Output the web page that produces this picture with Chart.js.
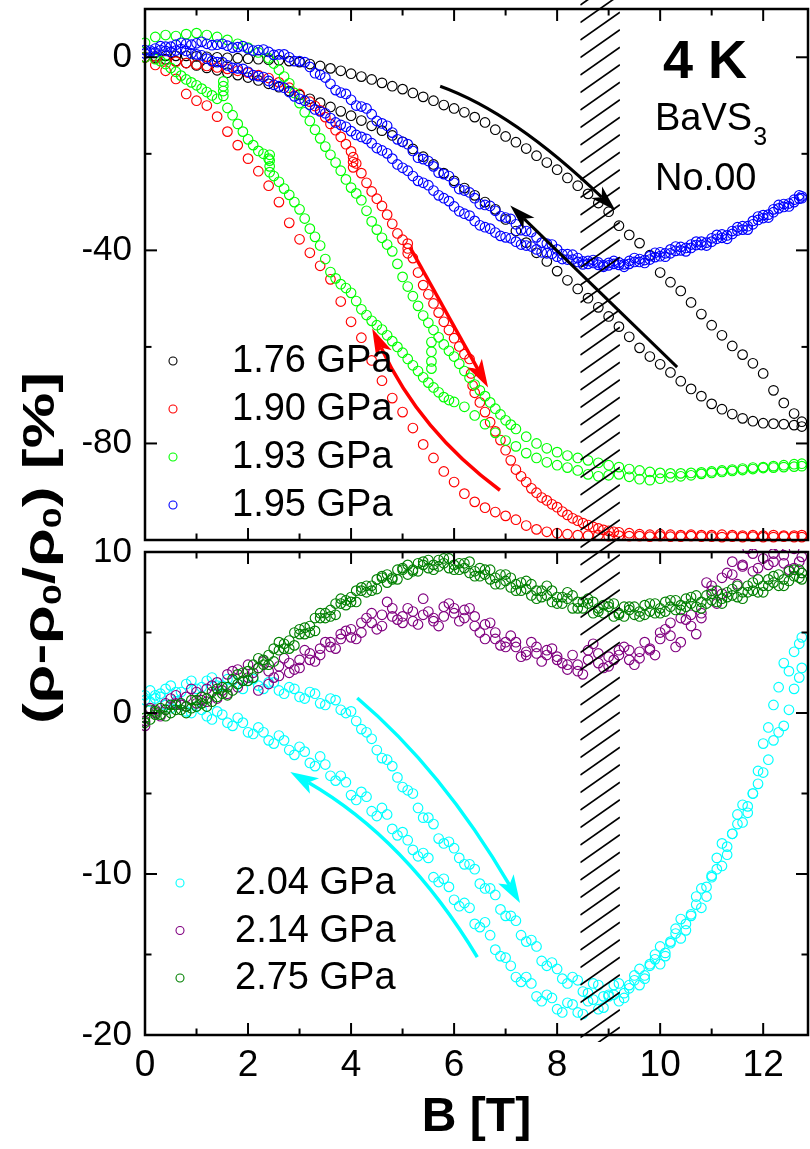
<!DOCTYPE html>
<html><head><meta charset="utf-8">
<script src="https://cdn.jsdelivr.net/npm/chart.js@4"></script>
<style>
html,body{margin:0;padding:0;background:#fff;}
#wrap{position:relative;width:810px;height:1149px;overflow:hidden;background:#fff;}
#cTop{position:absolute;left:0;top:0;}
#cBot{position:absolute;left:0;top:520px;}
#ytitle{position:absolute;left:39px;top:548px;transform:translate(-50%,-50%) rotate(-90deg) scale(1.42,1);font:bold 44px "Liberation Sans",Arial,sans-serif;white-space:nowrap;color:#000;line-height:1;}
#ytitle sub{font-size:0.6em;vertical-align:-0.25em;line-height:0;}
</style></head><body>
<div id="wrap">
<canvas id="cTop" width="810" height="546"></canvas>
<canvas id="cBot" width="810" height="629"></canvas>
<div id="ytitle">(ρ-ρ<sub>0</sub>/ρ<sub>0</sub>) [%]</div>
</div>
<script>
// ---------- axis / tick values ----------
const xTickLabels = [0, 2, 4, 6, 8, 10, 12];
const xMinorTicks = [1, 3, 5, 7, 9, 11];
const topYTickLabels = [-80, -40, 0];
const topYMajorTicks = [-80, -40, 0];
const topYMinorTicks = [-60, -20];
const botYTickLabels = [-20, -10, 0, 10];
const botYMajorTicks = [-10, 0];
const botYMinorTicks = [-15, -5, 5];
const topLabels = ['1.76 GPa', '1.90 GPa', '1.93 GPa', '1.95 GPa'];
const botLabels = ['2.04 GPa', '2.14 GPa', '2.75 GPa'];
const hatchBand = [8.45, 9.22];

// ---------- magnetic field grids (T) ----------
const fieldB = [0,0.2,0.4,0.6,0.8,1,1.2,1.4,1.6,1.8,
 2,2.2,2.4,2.6,2.8,3,3.2,3.4,3.6,3.8,
 4,4.2,4.4,4.6,4.8,5,5.2,5.4,5.6,5.8,
 6,6.2,6.4,6.6,6.8,7,7.2,7.4,7.6,7.8,
 8,8.2,8.4,8.6,8.8,9,9.2,9.4,9.6,9.8,
 10,10.2,10.4,10.6,10.8,11,11.2,11.4,11.6,11.8,
 12,12.2,12.4,12.6,12.75];
const fieldBHalf = [0.1,0.3,0.5,0.7,0.9,1.1,1.3,1.5,1.7,1.9,
 2.1,2.3,2.5,2.7,2.9,3.1,3.3,3.5,3.7,3.9,
 4.1,4.3,4.5,4.7,4.9,5.1,5.3,5.5,5.7,5.9,
 6.1,6.3,6.5,6.7,6.9,7.1,7.3,7.5,7.7,7.9,
 8.1,8.3,8.5,8.7,8.9,9.1,9.3,9.5,9.7,9.9,
 10.1,10.3,10.5,10.7,10.9,11.1,11.3,11.5,11.7,11.9,
 12.1,12.3,12.5,12.7];

// ---------- 1.76 GPa ----------
const p176Up = [0,0.2,0.3,0.3,0.3,0.2,0.1,0,-0.1,-0.2,
 -0.3,-0.4,-0.5,-0.6,-0.8,-1.0,-1.4,-1.8,-2.3,-2.8,
 -3.4,-4.0,-4.6,-5.3,-6.0,-6.6,-7.4,-8.2,-9.0,-9.9,
 -10.6,-11.4,-12.4,-13.5,-15.0,-16.4,-17.6,-18.9,-20.4,-21.8,
 -23.3,-25.0,-26.6,-28.3,-30.2,-32.0,-34.9,-36.8,-38.5,-41.0,
 -44.6,-46.6,-48.4,-50.8,-53.2,-55.5,-57.6,-59.8,-61.6,-63.4,
 -65.5,-69.0,-71.6,-73.8,-75.5];
const p176Down = [0,-0.1,-0.4,-0.8,-1.2,-1.7,-2.2,-2.7,-3.2,-3.7,
 -4.2,-4.8,-5.5,-6.2,-7.0,-7.8,-8.6,-9.4,-10.3,-11.2,
 -12.1,-13.1,-14.2,-15.2,-16.2,-17.5,-19.0,-20.6,-22.2,-24.0,
 -25.6,-27.1,-28.6,-30.0,-31.5,-33.6,-36.0,-38.4,-40.5,-42.3,
 -44.3,-46.2,-48.0,-49.9,-51.8,-53.7,-55.8,-57.9,-60.2,-62.0,
 -63.6,-65.3,-67.1,-68.7,-70.2,-71.8,-72.9,-73.9,-74.8,-75.4,
 -75.8,-75.9,-76.0,-76.2,-76.5];

// ---------- 1.90 GPa ----------
const p190Up = [0,-0.3,-0.6,-0.9,-1.2,-1.5,-1.8,-2.1,-2.4,-2.8,
 -3.2,-3.7,-4.3,-5.2,-6.3,-7.6,-9.2,-11.0,-13.8,-16.5,
 -19.5,-24.0,-27.8,-30.8,-34.5,-37.8,-41.6,-47.2,-51.0,-54.8,
 -58.2,-61.5,-69.5,-73.5,-77.5,-81.4,-85.4,-88.0,-90.2,-91.8,
 -93.2,-94.8,-96.0,-96.9,-97.6,-98.1,-98.4,-98.6,-98.8,-98.9,
 -98.8,-98.9,-99.0,-98.9,-99.0,-99.0,-98.9,-99.0,-99.1,-99.0,
 -99.1,-99.0,-99.1,-99.1,-99.0];
const p190UpExtraB = [3.3,3.5,3.7,3.9,4.04,4.04,4.04,4.1,4.3,4.5,4.7,4.9,5.1,5.1,5.1,5.3,5.5,5.7,5.9,6.1,6.3,6.33,6.36,6.5,6.7,6.9,7.1,7.3,7.5,7.7,7.9,8.1,8.3,8.5,8.7,8.9,9.1];
const p190UpExtraR = [-10.1,-12.4,-15.1,-18.0,-20.7,-21.7,-22.8,-22.0,-26.0,-29.3,-32.6,-36.5,-38.6,-39.6,-40.6,-44.6,-49.1,-52.9,-56.5,-59.9,-62.5,-65.5,-68.0,-71.5,-75.6,-79.3,-83.5,-86.8,-89.3,-91.2,-92.6,-94.1,-95.5,-96.5,-97.3,-97.9,-98.3];
const p190Down = [0,-1.6,-2.8,-4.5,-7.6,-9.0,-10.0,-12.3,-15.4,-18.2,
 -21.0,-23.6,-26.6,-30.0,-34.3,-37.7,-40.5,-43.2,-46.0,-50.6,
 -54.8,-58.1,-62.8,-67.0,-70.6,-73.5,-76.8,-80.2,-83.0,-85.8,
 -88.0,-90.4,-92.1,-93.3,-94.2,-95.0,-95.8,-97.0,-97.8,-98.3,
 -98.6,-98.8,-99.0,-99.1,-99.0,-99.2,-99.1,-99.2,-99.2,-99.3,
 -99.2,-99.3,-99.3,-99.2,-99.3,-99.3,-99.4,-99.3,-99.4,-99.3,
 -99.4,-99.4,-99.3,-99.4,-99.4];

// ---------- 1.93 GPa ----------
const p193Up = [3.0,4.2,4.6,4.4,4.8,5.0,4.6,4.2,3.6,2.8,
 2.0,1.0,-0.2,-2.6,-5.4,-9.5,-13.2,-16.8,-20.2,-23.5,
 -27.0,-29.6,-34.0,-37.4,-40.2,-45.5,-49.5,-53.5,-56.5,-59.5,
 -62.0,-65.0,-67.8,-70.2,-72.8,-75.2,-77.0,-78.6,-80.0,-81.0,
 -81.8,-82.5,-83.0,-83.5,-84.0,-84.5,-84.9,-85.3,-85.6,-85.9,
 -86.1,-86.2,-86.2,-86.1,-86.0,-85.8,-85.6,-85.4,-85.2,-85.0,
 -84.9,-84.7,-84.5,-84.3,-84.2];
const p193Down = [0,-0.4,-1.4,-3.0,-4.6,-5.8,-7.2,-8.6,-10.5,-13.8,
 -17.0,-19.4,-21.0,-25.8,-28.5,-31.5,-35.5,-39.0,-44.5,-47.0,
 -48.8,-52.2,-54.6,-56.4,-58.8,-61.2,-63.8,-66.3,-68.4,-70.4,
 -71.4,-72.4,-74.2,-76.0,-77.8,-79.4,-80.6,-82.0,-83.0,-83.9,
 -84.5,-85.0,-85.6,-86.4,-86.8,-86.6,-86.4,-86.9,-87.4,-87.6,
 -87.3,-87.0,-86.8,-86.6,-86.3,-86.1,-85.9,-85.7,-85.5,-85.3,
 -85.1,-85.0,-84.9,-84.8,-84.7];
const p193ExtraB = [0.3,0.5,0.7,0.9,1.1,1.3,1.7,1.9,2.1,2.3,2.5,2.7,2.9,3.1,3.3,3.5,3.7,3.9,4.1,4.3,4.5,4.7,4.9,5.1,5.3,5.5,5.7,5.9,
 2.5,2.7,2.9,3.1,3.3,3.5,3.7,3.9,4.1,4.3,4.5,4.7,4.9,5.1,5.3,5.5,5.7,5.9,6.1,6.3,6.5,6.7,6.9,7.1,
 1.52,1.52,1.52,1.52,2.42,2.42,2.42,2.42,5.56,5.56,5.56,5.56];
const p193ExtraR = [-0.8,-2.2,-3.8,-5.2,-6.5,-7.9,-12.0,-15.4,-18.2,-20.0,-24.6,-27.2,-30.0,-33.4,-37.2,-41.8,-45.8,-47.8,-50.5,-53.4,-55.5,-57.6,-60.0,-62.5,-65.0,-67.4,-69.4,-71.0,
 -1.3,-4.0,-7.4,-11.4,-15.0,-18.5,-21.8,-25.3,-28.2,-31.8,-35.7,-38.8,-42.8,-47.5,-51.5,-55.0,-58.0,-60.8,-63.5,-66.4,-69.0,-71.5,-74.0,-76.1,
 -5.0,-6.0,-7.0,-8.0,-20.2,-21.4,-22.6,-23.8,-59.0,-61.0,-63.0,-64.5];

// ---------- 1.95 GPa ----------
const p195Up = [1.5,1.8,2.2,2.6,2.8,2.9,2.8,2.6,2.4,2.1,
 1.8,1.5,1.1,0.6,0,-0.8,-2.0,-3.6,-5.5,-7.3,
 -8.8,-10.2,-11.8,-13.7,-15.6,-17.5,-19.4,-21.1,-22.6,-24.2,
 -26.0,-27.6,-29.2,-30.6,-31.8,-33.2,-34.6,-36.0,-37.3,-38.6,
 -39.8,-40.8,-41.6,-42.2,-42.5,-42.6,-42.5,-42.2,-41.8,-41.2,
 -40.4,-39.8,-39.3,-38.8,-38.2,-37.5,-36.7,-36.0,-35.0,-33.9,
 -32.7,-31.5,-30.4,-29.5,-28.8];
const p195UpHalf = [1.4,2.3,2.2,3.0,2.6,3.2,2.5,2.8,2.0,2.3,
 1.4,1.6,0.5,0.6,-0.8,-1.0,-3.3,-4.2,-6.8,-7.6,
 -10.0,-10.6,-13.2,-14.2,-17.0,-18.0,-20.8,-21.5,-23.9,-24.6,
 -27.3,-28.0,-30.4,-30.8,-32.9,-33.5,-35.8,-36.2,-38.4,-38.8,
 -40.8,-40.9,-42.3,-42.0,-43.1,-42.2,-42.9,-41.6,-42.0,-40.5,
 -40.6,-39.2,-39.5,-38.2,-38.4,-36.8,-36.9,-35.2,-35.0,-33.0,
 -32.6,-30.6,-30.3,-28.6];
const p195Down = [0.8,1.0,1.3,1.4,1.3,0.6,-0.3,-1.0,-1.7,-2.3,
 -3.0,-3.9,-4.9,-6.0,-7.2,-8.6,-9.9,-11.2,-12.6,-14.0,
 -15.3,-16.5,-17.8,-19.3,-21.0,-22.9,-24.6,-26.0,-27.6,-29.2,
 -30.9,-32.4,-33.9,-35.2,-36.3,-37.3,-38.2,-39.0,-39.8,-40.6,
 -41.3,-41.9,-42.4,-42.8,-43.0,-43.1,-43.0,-42.8,-42.4,-41.9,
 -41.2,-40.6,-40.0,-39.5,-38.9,-38.2,-37.4,-36.6,-35.7,-34.6,
 -33.3,-32.1,-31.0,-30.0,-29.2];
const p195DownHalf = [1.0,1.5,1.1,1.7,0.8,0.4,-0.8,-1.0,-2.2,-2.4,
 -3.7,-4.1,-5.7,-6.3,-8.1,-9.0,-10.8,-11.6,-13.5,-14.4,
 -16.1,-16.9,-18.8,-19.9,-22.2,-23.5,-25.6,-26.5,-28.6,-29.8,
 -31.9,-32.8,-34.8,-35.5,-37.0,-37.5,-38.8,-39.2,-40.4,-40.7,
 -41.8,-41.9,-42.9,-42.6,-43.4,-42.8,-43.4,-42.4,-42.6,-41.4,
 -41.3,-40.1,-40.2,-38.9,-39.0,-37.6,-37.6,-35.9,-35.7,-33.7,
 -33.2,-31.3,-30.9,-29.3];

// ---------- 2.04 GPa ----------
const p204Up = [1.1,0.9,1.5,1.3,1.8,1.5,2.0,1.7,2.1,1.8,
 2.0,1.7,1.9,1.4,1.6,1.0,1.3,0.6,0.9,0.2,
 0.1,-1.0,-1.6,-2.8,-3.3,-4.6,-5.0,-6.5,-6.9,-8.1,
 -8.4,-9.4,-9.7,-10.9,-11.3,-12.6,-12.9,-14.2,-14.5,-15.7,
 -15.9,-16.8,-16.6,-17.4,-16.9,-17.5,-16.8,-17.1,-15.9,-15.6,
 -14.5,-14.3,-12.8,-12.6,-10.9,-10.1,-8.1,-7.5,-5.7,-5.0,
 -1.9,0.5,3.1,3.8,4.7];
const p204UpHalf = [1.4,1.2,1.7,1.3,2.0,1.6,2.2,1.7,2.0,1.5,
 2.1,1.5,1.9,1.2,1.5,0.9,1.2,0.5,0.8,0.0,
 -0.5,-1.2,-2.3,-2.9,-4.0,-4.8,-5.9,-6.5,-7.8,-8.0,
 -9.0,-9.4,-10.6,-10.9,-12.2,-12.6,-13.8,-14.1,-15.4,-15.5,
 -16.5,-16.4,-17.3,-16.8,-17.6,-16.9,-17.4,-16.3,-16.3,-15.0,
 -14.9,-13.4,-13.1,-11.4,-10.8,-9.0,-8.3,-6.3,-5.8,-3.6,
 -0.9,1.6,2.6,4.3];
const p204Down = [0.8,1.1,0.5,0.7,0.1,0.4,-0.2,0.1,-0.6,-0.3,
 -1.2,-0.9,-1.7,-1.4,-2.3,-2.1,-3.1,-2.7,-3.9,-3.9,
 -5.1,-4.9,-6.1,-5.9,-7.2,-7.4,-8.5,-8.7,-10.2,-10.3,
 -11.6,-11.8,-13.1,-13.0,-14.7,-15.2,-16.4,-16.4,-17.6,-17.5,
 -18.4,-18.0,-18.6,-17.9,-18.4,-17.6,-17.9,-16.9,-16.9,-15.7,
 -15.6,-14.2,-14.0,-12.5,-12.1,-10.2,-9.5,-7.5,-6.8,-5.0,
 -3.7,-1.7,-0.8,1.5,2.8];
const p204DownHalf = [0.7,1.0,0.3,0.6,0.0,0.2,-0.4,-0.1,-0.8,-0.6,
 -1.3,-1.2,-1.9,-1.7,-2.6,-2.4,-3.3,-3.2,-4.2,-4.3,
 -5.4,-5.2,-6.4,-6.3,-7.6,-7.9,-8.9,-9.0,-10.5,-10.8,
 -12.0,-12.1,-13.3,-13.8,-15.1,-15.7,-16.7,-16.8,-17.9,-17.7,
 -18.6,-18.1,-18.7,-17.8,-18.3,-17.5,-17.7,-16.6,-16.5,-15.3,
 -15.1,-13.7,-13.5,-11.9,-11.4,-9.7,-8.8,-6.9,-6.2,-4.4,
 -2.9,-1.2,0.2,2.2];

// ---------- 2.14 GPa ----------
const p214Up = [-0.8,0.2,0.6,1.1,1.0,1.3,1.5,1.9,2.4,2.7,
 3.0,2.8,2.6,2.9,3.1,3.3,3.7,4.0,4.4,4.9,
 5.2,5.0,5.6,6.1,6.5,6.0,5.7,6.1,5.9,6.6,
 6.2,6.4,6.0,5.5,4.6,4.4,4.1,3.8,3.7,3.9,
 3.5,3.0,2.6,3.3,3.1,3.5,3.6,3.9,3.4,4.0,
 5.0,5.6,4.4,6.1,5.9,7.6,8.4,9.4,9.1,8.8,
 9.6,9.9,9.3,9.0,8.7];
const p214Down = [-0.5,0.0,0.2,0.6,0.4,0.6,0.7,0.9,1.2,1.6,
 2.2,1.4,1.8,2.3,2.5,2.8,3.3,3.6,4.1,4.6,
 4.7,5.6,6.2,5.4,6.0,5.6,6.3,7.1,5.7,6.0,
 6.5,5.9,5.4,4.6,5.0,4.1,4.4,3.6,4.1,3.6,
 3.3,2.7,3.0,3.9,3.7,2.9,3.9,3.3,3.8,3.9,
 4.6,4.8,5.9,5.4,6.2,7.9,7.4,8.6,9.2,9.9,
 10.4,9.4,9.8,10.2,9.7];
const p214Half = [0.3,-0.2,0.9,0.5,1.5,0.8,1.7,1.4,2.6,2.0,
 2.5,3.2,2.2,3.4,2.7,3.9,3.2,4.4,4.0,5.1,
 4.6,5.9,5.2,6.9,5.8,6.5,5.5,6.3,5.4,6.8,
 5.7,6.5,5.0,5.6,4.2,4.8,3.5,4.4,3.2,4.0,
 3.1,3.6,2.4,4.3,2.8,3.3,4.1,3.0,4.4,3.6,
 5.2,4.1,5.8,4.9,8.1,6.8,8.7,8.0,10.2,9.0,
 9.2,10.3,8.9,9.4];

// ---------- 2.75 GPa ----------
const p275Up = [-0.3,0.1,0.2,0.5,0.4,0.8,0.9,1.5,1.6,2.4,
 2.6,3.4,3.6,4.4,4.5,5.2,5.4,6.2,6.4,7.1,
 7.2,7.8,7.9,8.5,8.4,8.9,8.8,9.2,8.9,9.3,
 8.9,9.0,8.5,8.6,8.0,8.2,7.6,7.7,7.1,7.3,
 6.8,7.1,6.5,6.8,6.3,6.6,6.2,6.6,6.3,6.8,
 6.5,7.0,6.7,7.2,6.9,7.4,7.1,7.7,7.5,8.1,
 7.9,8.5,8.3,8.9,8.7];
const p275UpHalf = [0.2,-0.1,0.5,0.2,0.8,0.6,1.3,1.2,2.1,2.0,
 3.0,3.0,4.0,4.0,5.0,4.9,5.9,5.9,6.8,6.7,
 7.6,7.5,8.3,8.1,8.9,8.6,9.3,9.0,9.5,9.0,
 9.3,8.7,9.0,8.3,8.6,7.8,8.1,7.3,7.6,6.9,
 7.2,6.5,6.9,6.2,6.7,6.0,6.6,6.1,6.7,6.2,
 6.9,6.4,7.1,6.6,7.3,6.9,7.5,7.2,7.9,7.5,
 8.3,7.9,8.8,8.4];
const p275Down = [-0.6,-0.1,-0.2,0.2,0.0,0.4,0.4,1.0,1.1,1.8,
 2.0,2.8,3.0,3.9,4.0,4.9,5.0,5.9,6.0,6.8,
 6.9,7.6,7.6,8.4,8.3,9.0,8.9,9.4,9.2,9.6,
 9.2,9.3,8.8,8.9,8.4,8.6,8.0,8.2,7.6,7.9,
 7.2,7.5,6.9,7.1,6.5,6.8,6.1,6.4,6.0,6.3,
 6.2,6.6,6.4,6.8,6.5,7.0,6.8,7.3,7.1,7.6,
 7.5,8.1,7.9,8.5,8.3];
const p275DownHalf = [-0.4,0.3,0.0,0.6,0.3,1.0,0.7,1.6,1.4,2.5,
 2.2,3.3,3.2,4.3,4.2,5.3,5.1,6.2,6.1,7.0,
 6.9,7.9,7.7,8.6,8.3,9.2,8.8,9.5,9.1,9.6,
 8.9,9.4,8.5,8.9,8.0,8.4,7.6,8.0,7.2,7.6,
 6.8,7.3,6.5,6.9,6.2,6.8,6.0,6.6,6.1,6.8,
 6.3,7.0,6.6,7.3,6.8,7.6,7.2,7.9,7.5,8.3,
 7.9,8.6,8.2,8.9];

// ---------- helpers ----------
function pts(xs, ys) {
  const out = [];
  for (let i = 0; i < xs.length; i++) {
    if (ys[i] !== null && ys[i] !== undefined) out.push({x: xs[i], y: ys[i]});
  }
  return out;
}
const FONT = '"Liberation Sans", Arial, sans-serif';
Chart.defaults.font.family = FONT;
Chart.defaults.color = '#000';

function ds(label, color, order, data) {
  return {label, data, borderColor: color, backgroundColor: 'rgba(0,0,0,0)',
    pointRadius: 4.8, pointHoverRadius: 4.8, pointBorderWidth: 1.15, pointHoverBorderWidth: 1.15,
    showLine: false, order, clip: 3};
}

function drawArrow(ctx, xs, ys, ar) {
  const P0 = [xs.getPixelForValue(ar.from[0]), ys.getPixelForValue(ar.from[1])];
  const P2 = [xs.getPixelForValue(ar.to[0]), ys.getPixelForValue(ar.to[1])];
  const C = ar.ctrl ? [xs.getPixelForValue(ar.ctrl[0]), ys.getPixelForValue(ar.ctrl[1])] : null;
  const d = C ? [P2[0]-C[0], P2[1]-C[1]] : [P2[0]-P0[0], P2[1]-P0[1]];
  const len = Math.hypot(d[0], d[1]);
  const u = [d[0]/len, d[1]/len], n = [-u[1], u[0]];
  const L = ar.head, W = ar.headW, N = ar.notch;
  const E = [P2[0] - u[0]*(L-N), P2[1] - u[1]*(L-N)];
  ctx.save();
  ctx.strokeStyle = ar.color; ctx.fillStyle = ar.color; ctx.lineWidth = ar.width; ctx.lineCap = 'butt';
  ctx.beginPath(); ctx.moveTo(P0[0], P0[1]);
  if (C) ctx.quadraticCurveTo(C[0], C[1], E[0], E[1]); else ctx.lineTo(E[0], E[1]);
  ctx.stroke();
  ctx.beginPath();
  ctx.moveTo(P2[0], P2[1]);
  ctx.lineTo(P2[0] - u[0]*L + n[0]*W, P2[1] - u[1]*L + n[1]*W);
  ctx.lineTo(E[0], E[1]);
  ctx.lineTo(P2[0] - u[0]*L - n[0]*W, P2[1] - u[1]*L - n[1]*W);
  ctx.closePath(); ctx.fill();
  ctx.restore();
}

function makeDecor(cfg) {
  return {
    id: 'decor',
    afterDatasetsDraw(chart) {
      const ctx = chart.ctx, a = chart.chartArea, xs = chart.scales.x, ys = chart.scales.y;
      // hatched band
      const xl = xs.getPixelForValue(hatchBand[0]), xr = xs.getPixelForValue(hatchBand[1]);
      ctx.save();
      ctx.beginPath();
      ctx.rect(xl, cfg.hatchFrom - cfg.pageTop, xr - xl, cfg.hatchTo - cfg.hatchFrom);
      ctx.clip();
      ctx.strokeStyle = '#000'; ctx.lineWidth = 1.7;
      const rise = (xr - xl) * 0.7, sp = 17.5;
      for (let c = Math.floor((cfg.hatchFrom - 40) / sp) * sp + 5; c < cfg.hatchTo + rise + sp; c += sp) {
        ctx.beginPath();
        ctx.moveTo(xl, c - cfg.pageTop);
        ctx.lineTo(xr, c - rise - cfg.pageTop);
        ctx.stroke();
      }
      ctx.restore();
      // arrows
      cfg.arrows.forEach(ar => drawArrow(ctx, xs, ys, ar));
      // frame and inward ticks
      ctx.save();
      ctx.strokeStyle = '#000';
      ctx.lineWidth = 2.5;
      ctx.strokeRect(a.left, a.top, a.right - a.left, a.bottom - a.top);
      ctx.lineWidth = 2;
      const seg = (x1, y1, x2, y2) => { ctx.beginPath(); ctx.moveTo(x1, y1); ctx.lineTo(x2, y2); ctx.stroke(); };
      const MAJ = 12, MIN = 6.5;
      xTickLabels.forEach(v => { const p = xs.getPixelForValue(v); seg(p, a.top, p, a.top + MAJ); seg(p, a.bottom, p, a.bottom - MAJ); });
      xMinorTicks.forEach(v => { const p = xs.getPixelForValue(v); seg(p, a.top, p, a.top + MIN); seg(p, a.bottom, p, a.bottom - MIN); });
      cfg.yMajor.forEach(v => { const p = ys.getPixelForValue(v); seg(a.left, p, a.left + MAJ, p); seg(a.right, p, a.right - MAJ, p); });
      cfg.yMinor.forEach(v => { const p = ys.getPixelForValue(v); seg(a.left, p, a.left + MIN, p); seg(a.right, p, a.right - MIN, p); });
      ctx.restore();
      // legend
      ctx.save();
      ctx.font = '38px ' + FONT; ctx.textBaseline = 'middle'; ctx.textAlign = 'left'; ctx.fillStyle = '#000';
      chart.data.datasets.forEach((d, i) => {
        const y = cfg.legend.y0 + i * cfg.legend.dy;
        ctx.beginPath(); ctx.arc(cfg.legend.mx, y, 4, 0, Math.PI * 2);
        ctx.strokeStyle = d.borderColor; ctx.lineWidth = 1.1; ctx.stroke();
        ctx.fillText(d.label, cfg.legend.tx, y + 1);
      });
      ctx.restore();
      // extra texts
      if (cfg.texts) cfg.texts(ctx);
    }
  };
}

function baseOptions(pad) {
  return {
    responsive: false, animation: false, devicePixelRatio: 1, events: [],
    layout: {padding: pad, autoPadding: false},
    plugins: {legend: {display: false}, tooltip: {enabled: false}}
  };
}

function yScale(min, max, labels) {
  return {
    type: 'linear', min, max, position: 'left',
    afterBuildTicks: s => { s.ticks = labels.map(v => ({value: v})); },
    afterFit: s => { s.width = 145; s.paddingTop = 0; s.paddingBottom = 0; },
    grid: {display: false, drawTicks: false}, border: {display: false},
    ticks: {font: {size: 35}, color: '#000', padding: 13}
  };
}

// ---------- top chart ----------
const topChart = new Chart(document.getElementById('cTop'), {
  type: 'scatter',
  data: {datasets: [
    ds(topLabels[0], '#000000', 4, pts(fieldB, p176Up).concat(pts(fieldB, p176Down))),
    ds(topLabels[1], '#ff0000', 3, pts(fieldB, p190Up).concat(pts(p190UpExtraB, p190UpExtraR), pts(fieldB, p190Down))),
    ds(topLabels[2], '#00ff00', 2, pts(fieldB, p193Up).concat(pts(fieldB, p193Down), pts(p193ExtraB, p193ExtraR))),
    ds(topLabels[3], '#0000ff', 1, pts(fieldB, p195Up).concat(pts(fieldBHalf, p195UpHalf), pts(fieldB, p195Down), pts(fieldBHalf, p195DownHalf)))
  ]},
  options: Object.assign(baseOptions({top: 9, bottom: 6, left: 0, right: 2}), {
    scales: {
      x: {type: 'linear', min: 0, max: 12.87, display: false},
      y: yScale(-100, 10, topYTickLabels)
    }
  }),
  plugins: [makeDecor({
    pageTop: 0, hatchFrom: 0, hatchTo: 546,
    yMajor: topYMajorTicks, yMinor: topYMinorTicks,
    legend: {mx: 173, tx: 232, y0: 361, dy: 48},
    arrows: [
      {from: [5.73, -6.0], ctrl: [7.16, -11.5], to: [9.13, -31.7], color: '#000', width: 3, head: 26, headW: 8, notch: 7},
      {from: [10.33, -64.2], to: [7.09, -30.7], color: '#000', width: 3, head: 26, headW: 8, notch: 7},
      {from: [5.15, -39.5], to: [6.66, -68.4], color: '#ff0000', width: 3.5, head: 28, headW: 8.5, notch: 7},
      {from: [6.89, -89.7], ctrl: [5.34, -77.5], to: [4.41, -56.2], color: '#ff0000', width: 3.5, head: 28, headW: 8.5, notch: 7}
    ],
    texts: ctx => {
      ctx.save(); ctx.fillStyle = '#000'; ctx.textAlign = 'left'; ctx.textBaseline = 'alphabetic';
      ctx.font = 'bold 54px ' + FONT; ctx.fillText('4 K', 663, 78);
      ctx.font = '38px ' + FONT; ctx.fillText('BaVS', 655, 130);
      const w = ctx.measureText('BaVS').width;
      ctx.font = '25px ' + FONT; ctx.fillText('3', 655 + w + 1, 145);
      ctx.font = '38px ' + FONT; ctx.fillText('No.00', 655, 190);
      ctx.restore();
    }
  })]
});

// ---------- bottom chart ----------
const botChart = new Chart(document.getElementById('cBot'), {
  type: 'scatter',
  data: {datasets: [
    ds(botLabels[0], '#00ffff', 3, pts(fieldB, p204Up).concat(pts(fieldBHalf, p204UpHalf), pts(fieldB, p204Down), pts(fieldBHalf, p204DownHalf))),
    ds(botLabels[1], '#800080', 2, pts(fieldB, p214Up).concat(pts(fieldB, p214Down), pts(fieldBHalf, p214Half))),
    ds(botLabels[2], '#008000', 1, pts(fieldB, p275Up).concat(pts(fieldBHalf, p275UpHalf), pts(fieldB, p275Down), pts(fieldBHalf, p275DownHalf)))
  ]},
  options: Object.assign(baseOptions({top: 32, bottom: 0, left: 0, right: 2}), {
    scales: {
      x: {
        type: 'linear', min: 0, max: 12.87, position: 'bottom',
        afterBuildTicks: s => { s.ticks = xTickLabels.map(v => ({value: v})); },
        afterFit: s => { s.height = 114; s.paddingLeft = 0; s.paddingRight = 0; },
        grid: {display: false, drawTicks: false}, border: {display: false},
        ticks: {font: {size: 37}, color: '#000', padding: 9, maxRotation: 0, autoSkip: false},
        title: {display: true, text: 'B [T]', font: {size: 48, weight: 'bold'}, color: '#000', padding: {top: 0, bottom: 2}}
      },
      y: yScale(-20, 10, botYTickLabels)
    }
  }),
  plugins: [makeDecor({
    pageTop: 520, hatchFrom: 546, hatchTo: 1042,
    yMajor: botYMajorTicks, yMinor: botYMinorTicks,
    legend: {mx: 180, tx: 235, y0: 363, dy: 47.5},
    arrows: [
      {from: [4.12, 0.93], ctrl: [5.76, -3.51], to: [7.28, -11.8], color: '#00ffff', width: 3.5, head: 28, headW: 9, notch: 7},
      {from: [6.45, -15.16], ctrl: [5.08, -7.86], to: [2.82, -3.66], color: '#00ffff', width: 3.5, head: 28, headW: 9, notch: 7}
    ]
  })]
});
</script>
</body></html>
